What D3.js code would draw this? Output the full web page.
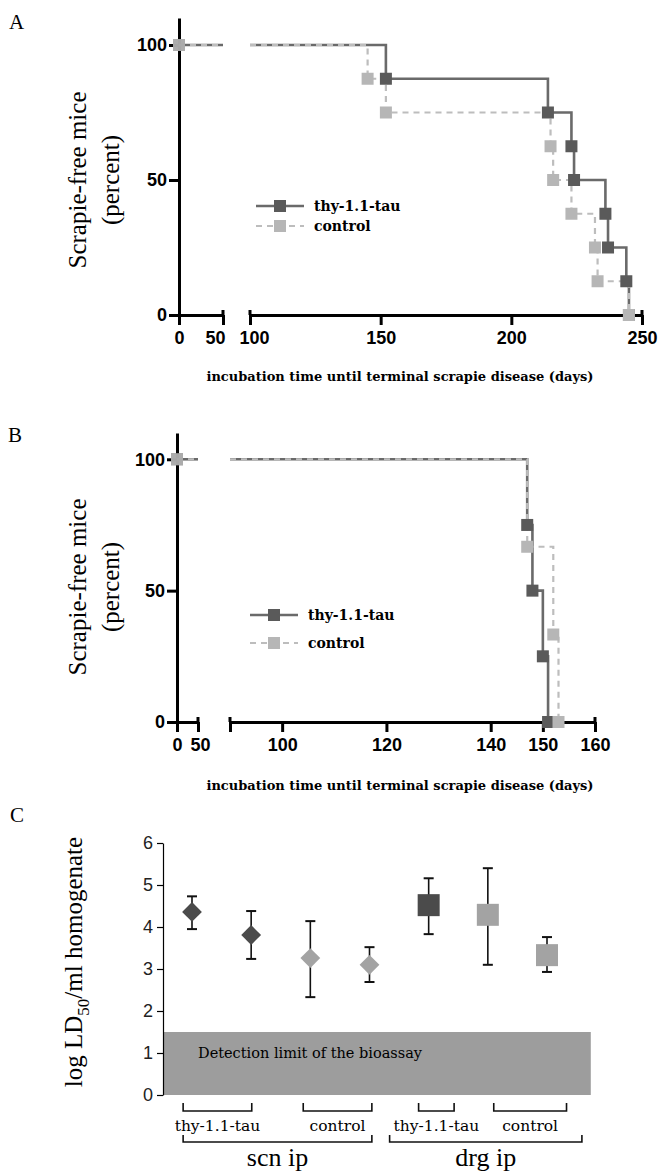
<!DOCTYPE html>
<meta charset="utf-8">
<script src="https://d3js.org/d3.v7.min.js"></script>
<style>
  body { margin: 0; background: #fff; }
  svg { display: block; }
</style>
<div id="chart"></div>
<script>

// ---- data ----
// panel A: survival steps [day, percent scrapie-free]
var thyA = [[152, 87.5], [214, 75], [223, 62.5], [224, 50], [236, 37.5], [237, 25], [244, 12.5], [245, 0]];
var ctlA = [[145, 87.5], [152, 75], [215, 62.5], [216, 50], [223, 37.5], [232, 25], [233, 12.5], [245, 0]];
// panel B
var thyB = [[147, 75], [148, 50], [150, 25], [151, 0]];
var ctlB = [[147, 66.7], [152, 33.3], [153, 0]];

var seriesNames = ["thy-1.1-tau", "control"];

// panel C: log LD50 / ml homogenate, mean with low/high error
var groupsC = ["scn thy 1", "scn thy 2", "scn ctl 1", "scn ctl 2", "drg thy", "drg ctl 1", "drg ctl 2"];
var meanC = [4.36, 3.81, 3.26, 3.10, 4.52, 4.29, 3.33];
var lowC  = [3.95, 3.24, 2.33, 2.69, 3.83, 3.10, 2.93];
var highC = [4.73, 4.38, 4.14, 3.52, 5.16, 5.40, 3.76];
var shapeC = ["diamond", "diamond", "diamond", "diamond", "square", "square", "square"];
var toneC  = ["dark", "dark", "light", "light", "dark", "light", "light"];
var detectionLimit = 1.5;

// brackets below panel C, in group-index units
var smallBrackets = [
  {label: "thy-1.1-tau", from: -0.15, to: 1.01},
  {label: "control", from: 1.88, to: 3.04},
  {label: "thy-1.1-tau", from: 3.83, to: 4.43},
  {label: "control", from: 5.10, to: 6.33}
];
var bigBrackets = [
  {label: "scn ip", from: -0.15, to: 3.04},
  {label: "drg ip", from: 3.34, to: 6.59}
];

// ---- styles ----
var darkLine = "#6a6a6a", darkMark = "#5a5a5a";
var lightLine = "#bdbdbd", lightMark = "#b6b6b6";
var serif = "'DejaVu Serif', serif";
var times = "'Liberation Serif', 'Times New Roman', serif";
var sans = "'Liberation Sans', Arial, sans-serif";

var svg = d3.select("#chart").append("svg")
  .attr("width", 661).attr("height", 1171);

// survival curve points restricted to [d0, d1]
function stepPoints(events, d0, d1) {
  var cur = 100, pts = [];
  events.forEach(function(e) { if (e[0] <= d0) cur = e[1]; });
  pts.push([d0, cur]);
  events.forEach(function(e) {
    if (e[0] > d0 && e[0] <= d1) {
      pts.push([e[0], cur]);
      pts.push([e[0], e[1]]);
      cur = e[1];
    }
  });
  if (cur > 0) pts.push([d1, cur]);
  return pts;
}

function survivalPanel(cfg) {
  var g = svg.append("g");
  var y = d3.scaleLinear().domain([0, 110]).range(cfg.yRange);
  var x1 = d3.scaleLinear().domain(cfg.seg1).range(cfg.seg1Range);
  var x2 = d3.scaleLinear().domain(cfg.seg2).range(cfg.seg2Range);
  var y0 = y(0);

  // axes
  function styleAxis(sel) {
    sel.select(".domain").attr("stroke-width", 3);
    sel.selectAll(".tick line").attr("stroke-width", 3);
    sel.selectAll("text").attr("font-family", sans).attr("font-weight", "bold")
      .attr("font-size", 18).attr("fill", "#000");
  }
  var ax1 = g.append("g").attr("transform", "translate(0," + y0 + ")")
    .call(d3.axisBottom(x1).tickValues(cfg.ticks1).tickSize(10).tickSizeOuter(0).tickPadding(6))
    .call(styleAxis);
  var ax2 = g.append("g").attr("transform", "translate(0," + y0 + ")")
    .call(d3.axisBottom(x2).tickValues(cfg.ticks2).tickSize(10).tickSizeOuter(0).tickPadding(6)
      .tickFormat(function(d) { return cfg.ticks2Labels.indexOf(d) >= 0 ? d : ""; }))
    .call(styleAxis);
  // labels either side of the break sit a little apart
  ax1.selectAll(".tick text").filter(function(d) { return d === cfg.seg1[1]; }).attr("dx", cfg.breakShift[0]);
  ax2.selectAll(".tick text").filter(function(d) { return d === cfg.seg2[0]; }).attr("dx", cfg.breakShift[1]);
  // small upward stubs at the axis break
  [x1(cfg.seg1[1]), x2(cfg.seg2[0]), x2(cfg.seg2[1])].forEach(function(px) {
    g.append("line").attr("x1", px).attr("x2", px).attr("y1", y0 - 5).attr("y2", y0)
      .attr("stroke", "#000").attr("stroke-width", 3);
  });
  g.append("g").attr("transform", "translate(" + x1(0) + ",0)")
    .call(d3.axisLeft(y).tickValues([0, 50, 100]).tickSize(10).tickSizeOuter(0).tickPadding(2))
    .call(styleAxis);

  var line1 = d3.line().x(function(d) { return x1(d[0]); }).y(function(d) { return y(d[1]); });
  var line2 = d3.line().x(function(d) { return x2(d[0]); }).y(function(d) { return y(d[1]); });

  var series = [
    {ev: cfg.thy, stroke: darkLine, fill: darkMark, dash: null, w: 2.6},
    {ev: cfg.ctl, stroke: lightLine, fill: lightMark, dash: "6,5", w: 2.2}
  ];
  series.forEach(function(s) {
    [[line1, cfg.seg1], [line2, cfg.seg2]].forEach(function(p) {
      g.append("path").datum(stepPoints(s.ev, p[1][0], p[1][1]))
        .attr("fill", "none").attr("stroke", s.stroke).attr("stroke-width", s.w)
        .attr("stroke-dasharray", s.dash).attr("d", p[0]);
    });
  });
  var ms = 12;
  series.forEach(function(s) {
    g.append("rect").attr("x", x1(0) - ms / 2).attr("y", y(100) - ms / 2)
      .attr("width", ms).attr("height", ms).attr("fill", s.fill).attr("opacity", 0.85);
    g.selectAll(null).data(s.ev).enter().append("rect")
      .attr("x", function(d) { return x2(d[0]) - ms / 2; })
      .attr("y", function(d) { return y(d[1]) - ms / 2; })
      .attr("width", ms).attr("height", ms).attr("fill", s.fill);
  });

  // legend
  var lg = g.append("g").attr("transform", "translate(" + cfg.legend[0] + "," + cfg.legend[1] + ")");
  series.forEach(function(s, i) {
    var yy = i * cfg.legendGap;
    lg.append("line").attr("x1", 0).attr("x2", 48).attr("y1", yy).attr("y2", yy)
      .attr("stroke", s.stroke).attr("stroke-width", s.w).attr("stroke-dasharray", s.dash);
    lg.append("rect").attr("x", 24 - 6).attr("y", yy - 6).attr("width", 12).attr("height", 12)
      .attr("fill", s.fill);
    lg.append("text").attr("x", 58).attr("y", yy + 5)
      .attr("font-family", serif).attr("font-weight", "bold").attr("font-size", 14)
      .text(seriesNames[i]);
  });

  // titles
  var yt = g.append("text").attr("transform", "translate(" + cfg.yTitle[0] + "," + cfg.yTitle[1] + ") rotate(-90)")
    .attr("text-anchor", "middle").attr("font-family", times).attr("font-size", 25);
  yt.append("tspan").attr("x", 0).attr("dy", 0).text("Scrapie-free mice");
  yt.append("tspan").attr("x", 0).attr("dy", 33).text("(percent)");

  g.append("text").attr("x", cfg.xTitle[0]).attr("y", cfg.xTitle[1]).attr("text-anchor", "middle")
    .attr("font-family", serif).attr("font-weight", "bold").attr("font-size", 13)
    .text("incubation time until terminal scrapie disease (days)");

  g.append("text").attr("x", cfg.letter[0]).attr("y", cfg.letter[1])
    .attr("font-family", times).attr("font-size", 21).text(cfg.name);
}

survivalPanel({
  name: "A", letter: [9, 29],
  thy: thyA, ctl: ctlA,
  yRange: [315, 18],
  seg1: [0, 50], seg1Range: [179, 223], ticks1: [0, 50],
  seg2: [100, 250], seg2Range: [250, 642], ticks2: [100, 150, 200, 250], ticks2Labels: [100, 150, 200, 250],
  breakShift: [-8, 4],
  legend: [256, 206], legendGap: 20,
  yTitle: [86, 180], xTitle: [400, 381]
});

survivalPanel({
  name: "B", letter: [8, 442],
  thy: thyB, ctl: ctlB,
  yRange: [722, 433],
  seg1: [0, 50], seg1Range: [177, 198], ticks1: [0, 50],
  seg2: [90, 160], seg2Range: [230, 595], ticks2: [90, 100, 120, 140, 150, 160], ticks2Labels: [100, 120, 140, 150, 160],
  breakShift: [2, 0],
  legend: [250, 615], legendGap: 28,
  yTitle: [86, 587], xTitle: [400, 790]
});

// ---- panel C ----
var gc = svg.append("g");
var yC = d3.scaleLinear().domain([0, 6]).range([1095, 843]);
var xC = d3.scaleLinear().domain([0, 6]).range([192, 547]);
var axisX = 163;

gc.append("rect").attr("x", axisX).attr("y", yC(detectionLimit))
  .attr("width", xC(6.74) - axisX).attr("height", yC(0) - yC(detectionLimit))
  .attr("fill", "#9d9d9d");
gc.append("text").attr("x", 198).attr("y", yC(1) + 5)
  .attr("font-family", serif).attr("font-size", 14.5).text("Detection limit of the bioassay");

var ya = gc.append("g").attr("transform", "translate(" + axisX + ",0)")
  .call(d3.axisLeft(yC).ticks(6).tickSize(6).tickSizeOuter(0).tickPadding(4));
ya.select(".domain").attr("stroke-width", 1.2);
ya.selectAll(".tick line").attr("stroke-width", 1.2);
ya.selectAll("text").attr("font-family", sans).attr("font-size", 18).attr("fill", "#222");

// error bars
var cap = 5;
groupsC.forEach(function(name, i) {
  var px = xC(i);
  gc.append("line").attr("x1", px).attr("x2", px).attr("y1", yC(lowC[i])).attr("y2", yC(highC[i]))
    .attr("stroke", "#111").attr("stroke-width", 1.6);
  [lowC[i], highC[i]].forEach(function(v) {
    gc.append("line").attr("x1", px - cap).attr("x2", px + cap).attr("y1", yC(v)).attr("y2", yC(v))
      .attr("stroke", "#111").attr("stroke-width", 2);
  });
});
// markers
gc.selectAll(null).data(groupsC).enter().append("path")
  .attr("transform", function(d, i) {
    return "translate(" + xC(i) + "," + yC(meanC[i]) + ")" + (shapeC[i] === "diamond" ? " rotate(45)" : "");
  })
  .attr("d", function(d, i) {
    return d3.symbol(d3.symbolSquare, shapeC[i] === "diamond" ? 14 * 14 : 22 * 22)();
  })
  .attr("fill", function(d, i) { return toneC[i] === "dark" ? "#4b4b4b" : "#a3a3a3"; });

// brackets
function bracket(b, yy, h, fs, font, labelY) {
  var x1 = xC(b.from), x2 = xC(b.to);
  gc.append("path").attr("d", "M" + x1 + "," + (yy - h) + "V" + yy + "H" + x2 + "V" + (yy - h))
    .attr("fill", "none").attr("stroke", "#111").attr("stroke-width", 1.6);
  gc.append("text").attr("x", (x1 + x2) / 2).attr("y", labelY).attr("text-anchor", "middle")
    .attr("font-family", font).attr("font-size", fs).text(b.label);
}
smallBrackets.forEach(function(b) { bracket(b, 1111, 8, 15.5, serif, 1131); });
bigBrackets.forEach(function(b) { bracket(b, 1142, 7, 26, times, 1166); });

// y title with subscript
var ytc = gc.append("text").attr("transform", "translate(82,962) rotate(-90)")
  .attr("text-anchor", "middle").attr("font-family", times).attr("font-size", 25);
ytc.append("tspan").text("log LD");
ytc.append("tspan").attr("font-size", 17).attr("dy", 7).text("50");
ytc.append("tspan").attr("dy", -7).text("/ml homogenate");

gc.append("text").attr("x", 10).attr("y", 822).attr("font-family", times).attr("font-size", 21).text("C");

</script>
